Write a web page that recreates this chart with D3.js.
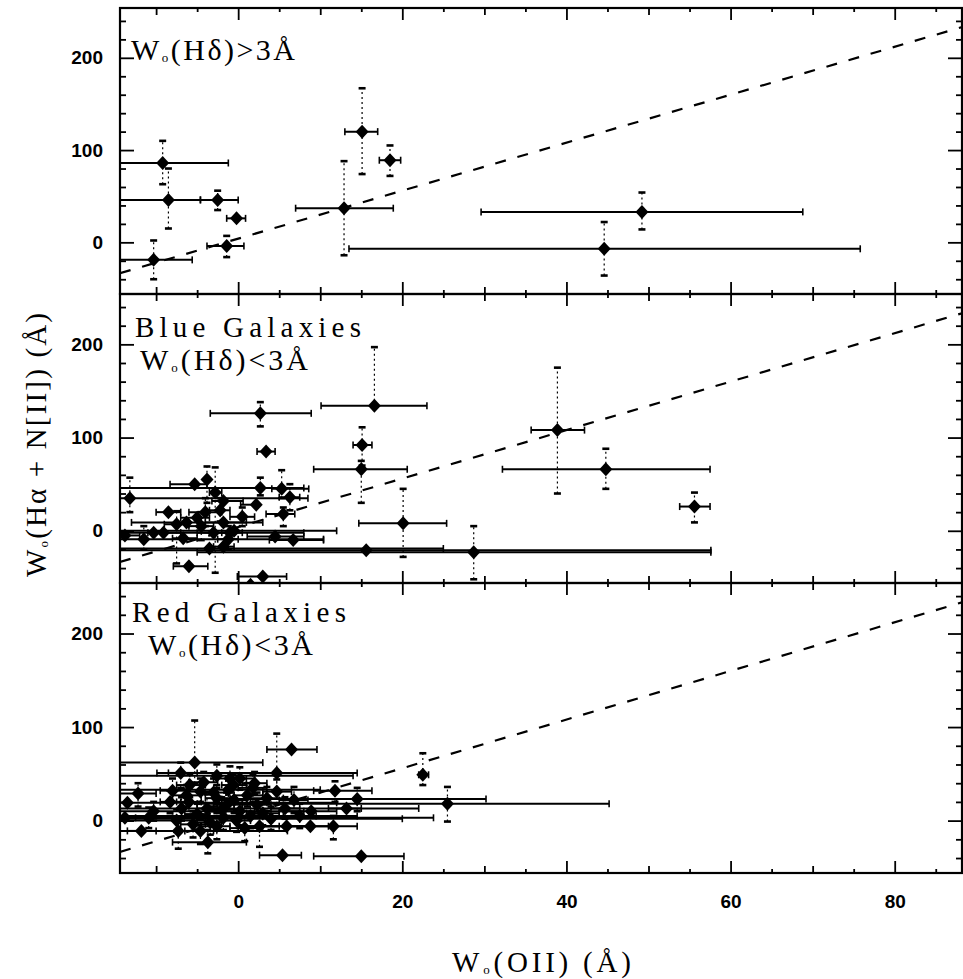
<!DOCTYPE html>
<html>
<head>
<meta charset="utf-8">
<script src="https://cdn.jsdelivr.net/npm/d3@7"></script>
<style>
  body { margin: 0; background: #fff; }
  svg { display: block; }
</style>
</head>
<body>
<svg id="chart" width="963" height="979"></svg>
<script>
// Each row: [W(OII), W(Hα+[NII]), W(OII) low, W(OII) high, W(Hα) low, W(Hα) high]
// null means that error bar is not drawn.
const strongHdRows = [
  [-9.2, 86, -15, -1.2, 63, 110],
  [-8.5, 46, -15, -4.6, 15, 80],
  [-2.5, 46, -4.6, 0.0, 35, 56],
  [-0.2, 26, -1.4, 0.9, null, null],
  [-1.4, -4, -3.8, 0.7, -16, 7],
  [-10.3, -19, -15, -5.6, -40, 2],
  [12.9, 37, 7.0, 18.9, -14, 88],
  [15.1, 120, 13.0, 17.0, 74, 167],
  [18.5, 89, 17.2, 19.8, 72, 105],
  [49.2, 33, 29.6, 68.8, 14, 54],
  [44.6, -7, 13.5, 75.8, -36, 22]
];

const blueRows = [
  [38.9, 108, 35.7, 42.2, 40, 175],
  [44.8, 66, 32.2, 57.5, 45, 88],
  [55.6, 26, 53.8, 57.5, 9, 41],
  [20.1, 8, 14.7, 25.4, -28, 45],
  [28.7, -23, -5.0, 57.6, -52, 5],
  [15.6, -21, -15, 57.6, null, null],
  [15.0, 66, 9.2, 20.6, 30, 75],
  [15.1, 92, 14.0, 16.3, 70, 111],
  [16.6, 134, 10.1, 23.0, 134, 197],
  [2.7, 126, -3.4, 8.9, 112, 138],
  [3.4, 85, 2.3, 4.5, null, null],
  [-13.2, 35, -15, 8.5, 20, 57],
  [2.7, 46, -15, 8.0, 38, 57],
  [-5.3, 50, -8.3, -3.8, null, null],
  [-3.8, 55, -3.8, -3.8, 30, 69],
  [-2.8, 41, -3.5, -2.0, -45, 68],
  [-1.8, 32, -3.2, 0.6, null, null],
  [5.3, 45, 4.1, 8.6, 35, 65],
  [6.3, 36, 5.0, 7.5, 22, 50],
  [5.5, 18, 3.4, 6.9, 5, 25],
  [2.2, 28, 0.3, 2.4, null, null],
  [-4.0, 20, -6.0, -2.0, 5, 35],
  [-5.0, 14, -7.0, -3.5, null, null],
  [-6.3, 9, -13.0, 3.0, null, null],
  [-7.5, 7, -9.0, -6.0, -35, 21],
  [-1.8, 9, -4.0, 1.0, null, null],
  [-10.3, -2, -15, 8.0, null, null],
  [-9.1, -2, -11.0, -7.0, null, null],
  [-11.5, -9, -15, 10.4, -20, 5],
  [-3.0, -2, -5.0, -1.0, null, null],
  [-1.0, -2, -2.0, 0.5, null, null],
  [-1.2, -9, -2.5, 0.0, -20, 5],
  [4.5, -6, 1.1, 8.0, null, null],
  [6.7, -10, 3.8, 10.4, null, null],
  [-1.8, -17, -3.0, -0.5, null, null],
  [-6.7, -8, -8.0, -5.0, null, null],
  [-6.0, -38, -7.9, -3.7, null, null],
  [3.0, -49, -0.1, 5.9, null, null],
  [1.5, -58, 0.0, 3.0, null, null],
  [-13.8, -5, -15, -12.0, null, null],
  [-4.5, 5, -6.0, -3.0, -10, 20],
  [-2.2, 22, -3.5, -1.0, 10, 35],
  [0.5, 15, -1.0, 2.0, 5, 25],
  [-8.5, 20, -10.0, -7.0, null, null],
  [-3.5, -19, -15, 25.0, null, null],
  [-0.5, 0, -15, 12.0, null, null]
];

const redRows = [
  [6.5, 76, 3.5, 9.6, null, null],
  [4.7, 51, -9.9, 14.5, 30, 93],
  [-5.3, 62, -15, 3.0, 40, 107],
  [-7.0, 51, -8.5, -5.0, 35, 62],
  [-12.2, 29, -15, -10.0, 15, 40],
  [-11.8, -11, -13.5, -10.0, null, null],
  [-3.7, -23, -8.0, 1.0, -35, -10],
  [5.4, -37, 2.6, 7.7, null, null],
  [15.0, -38, 9.2, 20.2, null, null],
  [11.8, 32, 9.2, 16.3, 20, 42],
  [14.5, 23, -2.0, 30.2, 10, 35],
  [13.2, 13, 11.0, 15.0, null, null],
  [11.6, -6, 0.0, 14.5, -20, 5],
  [8.9, 10, 5.0, 12.0, null, null],
  [8.8, -6, 6.0, 11.0, null, null],
  [5.9, -6, 3.0, 9.0, null, null],
  [2.6, -6, 0.0, 5.0, -28, 10],
  [22.5, 49, 22.0, 23.2, 38, 72],
  [25.5, 18, -5.0, 45.2, -1, 36],
  [-6.9, 13, -15, 22.0, 0, 25],
  [-6.3, 27, -8.0, -4.5, 15, 38],
  [-4.6, 31, -6.0, -3.0, 20, 45],
  [-3.8, 13, -5.0, -2.5, 0, 28],
  [-2.6, 24, -4.0, -1.0, 10, 38],
  [-1.4, 17, -3.0, 0.5, 5, 30],
  [-0.6, 38, -2.0, 1.0, 25, 50],
  [0.2, 10, -1.5, 2.0, -5, 22],
  [1.1, 27, -0.5, 3.0, 15, 40],
  [2.3, 17, 0.5, 4.0, 5, 30],
  [3.5, 24, 1.5, 5.5, 10, 36],
  [4.7, 31, 3.0, 6.5, 18, 44],
  [5.7, 13, 4.0, 7.5, 2, 25],
  [-7.5, 0, -15, -4.0, -12, 12],
  [-5.0, 7, -6.5, -3.5, -5, 18],
  [-3.4, -2, -5.0, -2.0, -15, 10],
  [-1.8, 3, -15, 23.8, -10, 15],
  [-0.2, 0, -2.0, 1.5, -12, 12],
  [1.5, 5, -15, 14.5, -8, 18],
  [-2.6, 48, -15, 14.0, 35, 60],
  [-1.0, 45, -3.0, 1.0, 30, 58],
  [-4.2, 41, -6.0, -2.5, 30, 52],
  [-5.9, 38, -7.5, -4.0, 25, 50],
  [0.2, 45, -1.5, 2.0, 33, 57],
  [-2.6, -6, -4.5, -1.0, -20, 8],
  [-4.6, -11, -6.5, -3.0, -25, 2],
  [-7.3, -11, -15, 6.0, -30, 0],
  [-10.3, 10, -15, 8.0, 0, 20],
  [-10.9, 3, -15, -8.0, -8, 14],
  [-13.8, 3, -15, -12.5, null, null],
  [-8.3, 20, -9.5, -7.0, 8, 32],
  [-13.5, 19, -15, 12.0, null, null],
  [-6.0, 20, -7.5, -4.5, 5, 35],
  [-3.0, 30, -4.5, -1.5, 15, 45],
  [-0.5, 22, -2.0, 1.0, 8, 36],
  [1.8, 35, 0.0, 3.5, 20, 50],
  [3.0, 8, 1.0, 5.0, -5, 20],
  [-2.0, 12, -3.5, -0.5, 0, 25],
  [0.8, -8, -1.0, 2.5, -22, 5],
  [-5.5, -4, -7.0, -4.0, -18, 10],
  [6.8, 22, 5.0, 8.5, 8, 36],
  [-8.0, 32, -9.5, -6.5, 20, 45],
  [-1.2, 33, -15, 10.0, 20, 45],
  [2.0, 40, 0.5, 3.5, 28, 52],
  [4.0, 2, -15, 20.0, -10, 15],
  [7.5, 5, 5.5, 9.5, -8, 18]
];

const panelRows = [strongHdRows, blueRows, redRows];
const panelNames = [null, "Blue Galaxies", "Red Galaxies"];
const panelConditions = [
  ["W", "o", "(Hδ)>3Å"],
  ["W", "o", "(Hδ)<3Å"],
  ["W", "o", "(Hδ)<3Å"]
];
const xTickLabels = [0, 20, 40, 60, 80];
const yTickLabels = [0, 100, 200];
// Dashed reference relation W(Hα+[NII]) = intercept + slope · W(OII)
const relationSlope = [2.6];
const relationIntercept = [4];

const svg = d3.select("#chart");
const frameLeft = 120, frameRight = 962;
const panelTops = [8, 294, 583];
const panelBottoms = [294, 583, 873];

const x = d3.scaleLinear().domain([-14.4, 88.2]).range([frameLeft, frameRight]);
const yDomain = [-56, 254];

const sansBold = "'Liberation Sans', Arial, sans-serif";
const serif = "'Liberation Serif', 'Times New Roman', serif";

const xMinor = d3.range(-10, 90, 5);
const yMinor = d3.range(-40, 260, 20);

panelRows.forEach((rows, i) => {
  const top = panelTops[i], bottom = panelBottoms[i];
  const y = d3.scaleLinear().domain(yDomain).range([bottom, top]);
  const g = svg.append("g");

  const clipId = "clip" + i;
  svg.append("clipPath").attr("id", clipId)
    .append("rect").attr("x", frameLeft).attr("y", top)
    .attr("width", frameRight - frameLeft).attr("height", bottom - top);

  // tick marks on all four edges, pointing inward
  const tickLen = v => (v % 20 === 0 ? 12 : v % 10 === 0 ? 7 : 4);
  xMinor.forEach(v => {
    const len = tickLen(v);
    g.append("g").attr("transform", `translate(0,${bottom})`)
      .call(d3.axisBottom(x).tickValues([v]).tickSize(-len).tickFormat(""))
      .call(a => a.select(".domain").remove());
    g.append("g").attr("transform", `translate(0,${top})`)
      .call(d3.axisTop(x).tickValues([v]).tickSize(-len).tickFormat(""))
      .call(a => a.select(".domain").remove());
  });
  const yMajor = yMinor.filter(v => v % 100 === 0);
  const ySmall = yMinor.filter(v => v % 100 !== 0);
  [[yMajor, 14], [ySmall, 6]].forEach(([vals, len]) => {
    g.append("g").attr("transform", `translate(${frameLeft},0)`)
      .call(d3.axisLeft(y).tickValues(vals).tickSize(-len).tickFormat(""))
      .call(a => a.select(".domain").remove());
    g.append("g").attr("transform", `translate(${frameRight},0)`)
      .call(d3.axisRight(y).tickValues(vals).tickSize(-len).tickFormat(""))
      .call(a => a.select(".domain").remove());
  });
  g.selectAll(".tick line").attr("stroke", "#000").attr("stroke-width", 1.8);

  // y tick labels
  g.append("g").attr("transform", `translate(${frameLeft},0)`)
    .call(d3.axisLeft(y).tickValues(yTickLabels).tickSize(0).tickPadding(17))
    .call(a => a.select(".domain").remove())
    .selectAll("text")
    .attr("font-family", sansBold).attr("font-weight", "bold")
    .attr("font-size", 19).attr("fill", "#000");

  // dashed relation
  const plot = g.append("g").attr("clip-path", `url(#${clipId})`);
  const xEnds = x.domain();
  const line = d3.line().x(d => x(d)).y(d => y(relationIntercept[0] + relationSlope[0] * d));
  plot.append("path").datum(xEnds).attr("d", line)
    .attr("fill", "none").attr("stroke", "#000").attr("stroke-width", 2.2)
    .attr("stroke-dasharray", "11,12");

  // horizontal error bars
  const hb = plot.append("g").attr("stroke", "#000");
  rows.filter(r => r[2] !== null).forEach(r => {
    hb.append("line").attr("x1", x(r[2])).attr("x2", x(r[3]))
      .attr("y1", y(r[1])).attr("y2", y(r[1])).attr("stroke-width", 2);
    [r[2], r[3]].forEach(v => {
      hb.append("line").attr("x1", x(v)).attr("x2", x(v))
        .attr("y1", y(r[1]) - 3.5).attr("y2", y(r[1]) + 3.5).attr("stroke-width", 1.6);
    });
  });

  // vertical error bars: faint dotted stem with short heavy caps
  const vb = plot.append("g").attr("stroke", "#000");
  rows.filter(r => r[4] !== null).forEach(r => {
    vb.append("line").attr("x1", x(r[0])).attr("x2", x(r[0]))
      .attr("y1", y(r[4])).attr("y2", y(r[5]))
      .attr("stroke-width", 1.2).attr("stroke-dasharray", "2,3");
    [r[4], r[5]].forEach(v => {
      vb.append("line").attr("x1", x(r[0]) - 3.5).attr("x2", x(r[0]) + 3.5)
        .attr("y1", y(v)).attr("y2", y(v)).attr("stroke-width", 2.6);
    });
  });

  // diamond markers
  plot.append("g").selectAll("path").data(rows).join("path")
    .attr("d", r => {
      const cx = x(r[0]), cy = y(r[1]);
      return `M${cx},${cy - 7}L${cx + 6.5},${cy}L${cx},${cy + 7}L${cx - 6.5},${cy}Z`;
    })
    .attr("fill", "#000");

  // frame
  g.append("rect").attr("x", frameLeft).attr("y", top)
    .attr("width", frameRight - frameLeft).attr("height", bottom - top)
    .attr("fill", "none").attr("stroke", "#000").attr("stroke-width", 2.2);

  // panel captions
  const name = panelNames[i], cond = panelConditions[i];
  const condBaselines = [60, 370, 655];
  const condStarts = [131, 140, 148];
  const condWidths = [164, 168, 165];
  if (name) {
    g.append("text").text(name)
      .attr("x", i === 1 ? 135 : 132).attr("y", i === 1 ? 337 : 622)
      .attr("font-family", serif).attr("font-size", 29)
      .attr("textLength", i === 1 ? 226 : 214).attr("lengthAdjust", "spacing")
      .attr("fill", "#000");
  }
  const t = g.append("text")
    .attr("x", condStarts[i]).attr("y", condBaselines[i])
    .attr("font-family", serif).attr("font-size", 30).attr("fill", "#000")
    .attr("textLength", condWidths[i]).attr("lengthAdjust", "spacing");
  t.append("tspan").text(cond[0]);
  t.append("tspan").text(cond[1]).attr("font-size", 13).attr("dy", 2);
  t.append("tspan").text(cond[2]).attr("dy", -2);
});

// x tick labels below the lowest panel
svg.append("g").attr("transform", `translate(0,${panelBottoms[2]})`)
  .call(d3.axisBottom(x).tickValues(xTickLabels).tickSize(0).tickPadding(22))
  .call(a => a.select(".domain").remove())
  .selectAll("text")
  .attr("font-family", sansBold).attr("font-weight", "bold")
  .attr("font-size", 19).attr("fill", "#000");

// axis titles
const xt = svg.append("text").attr("x", 452).attr("y", 972)
  .attr("font-family", serif).attr("font-size", 29).attr("fill", "#000")
  .attr("textLength", 179).attr("lengthAdjust", "spacing");
xt.append("tspan").text("W");
xt.append("tspan").text("o").attr("font-size", 13).attr("dy", 2);
xt.append("tspan").text("(OII)  (Å)").attr("dy", -2);

const yt = svg.append("text")
  .attr("transform", "translate(46,577) rotate(-90)")
  .attr("font-family", serif).attr("font-size", 29).attr("fill", "#000")
  .attr("textLength", 264).attr("lengthAdjust", "spacing");
yt.append("tspan").text("W");
yt.append("tspan").text("o").attr("font-size", 13).attr("dy", 2);
yt.append("tspan").text("(Hα + N[II])  (Å)").attr("dy", -2);
</script>
</body>
</html>
